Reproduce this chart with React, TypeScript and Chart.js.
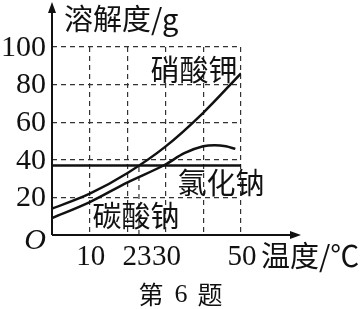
import React, { useEffect, useRef } from "react";
import { Chart, registerables } from "chart.js";

Chart.register(...registerables);

const kno3X = [0, 10, 20, 30, 40, 50];
const kno3Y = [14, 22, 33, 47, 65, 86];
const na2co3X = [0, 10, 20, 30, 35, 40, 43, 46, 48.5];
const na2co3Y = [9, 17.5, 28, 37.5, 43.5, 47.2, 47.8, 47.2, 45.8];
const naclX = [0, 50];
const naclY = [37, 37];
const xTickLabels = [10, 23, 30, 50];
const yTickLabels = [20, 40, 60, 80, 100];
const dropX = [23, 23];
const dropY = [0, 36.5];

const SERIF = '"Liberation Serif", "DejaVu Serif", serif';
const CJK = '"Noto Sans CJK SC", sans-serif';

const pts = (xs: number[], ys: number[]) => xs.map((x, i) => ({ x, y: ys[i] }));

const annotate = {
  id: "annotate",
  afterDatasetsDraw(chart: any) {
    const ctx = chart.ctx;
    const xs = chart.scales.x;
    const ys = chart.scales.y;
    const x0 = xs.getPixelForValue(0);
    const y0 = ys.getPixelForValue(0);
    ctx.save();
    ctx.strokeStyle = "#111";
    ctx.fillStyle = "#111";
    ctx.lineWidth = 2;
    // y axis with arrow
    ctx.beginPath();
    ctx.moveTo(x0, y0);
    ctx.lineTo(x0, 8);
    ctx.stroke();
    ctx.beginPath();
    ctx.moveTo(x0, 2);
    ctx.lineTo(x0 - 4, 13);
    ctx.lineTo(x0 + 4, 13);
    ctx.closePath();
    ctx.fill();
    // x axis with arrow
    ctx.beginPath();
    ctx.moveTo(x0, y0);
    ctx.lineTo(294, y0);
    ctx.stroke();
    ctx.beginPath();
    ctx.moveTo(301, y0);
    ctx.lineTo(290, y0 - 4);
    ctx.lineTo(290, y0 + 4);
    ctx.closePath();
    ctx.fill();

    // y tick labels
    ctx.font = `30px ${SERIF}`;
    ctx.textAlign = "right";
    ctx.textBaseline = "middle";
    yTickLabels.forEach((v) => ctx.fillText(String(v), x0 - 6, ys.getPixelForValue(v) + 1));
    // x tick labels
    ctx.font = `29px ${SERIF}`;
    ctx.textAlign = "center";
    xTickLabels.forEach((v) => {
      const nudge = v === 23 ? -2 : v === 30 ? 1 : 1;
      ctx.fillText(String(v), xs.getPixelForValue(v) + nudge, y0 + 22);
    });
    // origin
    ctx.font = `italic 30px ${SERIF}`;
    ctx.fillText("O", x0 - 17, y0 + 6);

    // titles
    ctx.font = `29px ${CJK}`;
    ctx.textAlign = "left";
    ctx.fillText("溶解度/g", x0 + 12, 19);
    ctx.fillText("温度/℃", 261, y0 + 21);
    ctx.textAlign = "center";
    ctx.fillText("硝酸钾", 194, 70);
    ctx.fillText("氯化钠", 221, 183);
    ctx.fillText("碳酸钠", 136, 216);
    ctx.font = `25px ${CJK}`;
    ctx.fillText("第", 151, 294);
    ctx.fillText("题", 210, 294);
    ctx.font = `26px ${SERIF}`;
    ctx.fillText("6", 181, 295);
    ctx.restore();
  },
};

export default function App() {
  const ref = useRef<HTMLCanvasElement | null>(null);
  useEffect(() => {
    if (!ref.current) return;
    const gridColor = (c: any) => (c.tick && c.tick.value === 0 ? "rgba(0,0,0,0)" : "#333");
    const chart = new Chart(ref.current, {
      type: "scatter",
      data: {
        datasets: [
          {
            data: pts(kno3X, kno3Y),
            showLine: true,
            borderColor: "#111",
            borderWidth: 2.5,
            pointRadius: 0,
            cubicInterpolationMode: "monotone",
          },
          {
            data: pts(na2co3X, na2co3Y),
            showLine: true,
            borderColor: "#111",
            borderWidth: 2.5,
            pointRadius: 0,
            cubicInterpolationMode: "monotone",
          },
          {
            data: pts(naclX, naclY),
            showLine: true,
            borderColor: "#111",
            borderWidth: 2.5,
            pointRadius: 0,
          },
          {
            data: pts(dropX, dropY),
            showLine: true,
            borderColor: "#333",
            borderWidth: 1.2,
            borderDash: [5, 4],
            pointRadius: 0,
          },
        ],
      },
      options: {
        responsive: false,
        animation: false,
        layout: { padding: { left: 52, top: 47, right: 120, bottom: 74 } },
        plugins: { legend: { display: false }, tooltip: { enabled: false } },
        scales: {
          x: {
            type: "linear",
            min: 0,
            max: 50,
            ticks: { display: false, stepSize: 10 },
            grid: { color: gridColor, lineWidth: 1.2, drawTicks: false },
            border: { display: false, dash: [5, 4] },
          },
          y: {
            type: "linear",
            min: 0,
            max: 100,
            ticks: { display: false, stepSize: 20 },
            grid: { color: gridColor, lineWidth: 1.2, drawTicks: false },
            border: { display: false, dash: [5, 4] },
          },
        },
      },
      plugins: [annotate],
    });
    return () => chart.destroy();
  }, []);
  return (
    <div style={{ position: "absolute", left: 0, top: 0, width: 361, height: 309, background: "#fff" }}>
      <canvas ref={ref} width={361} height={309} />
    </div>
  );
}
